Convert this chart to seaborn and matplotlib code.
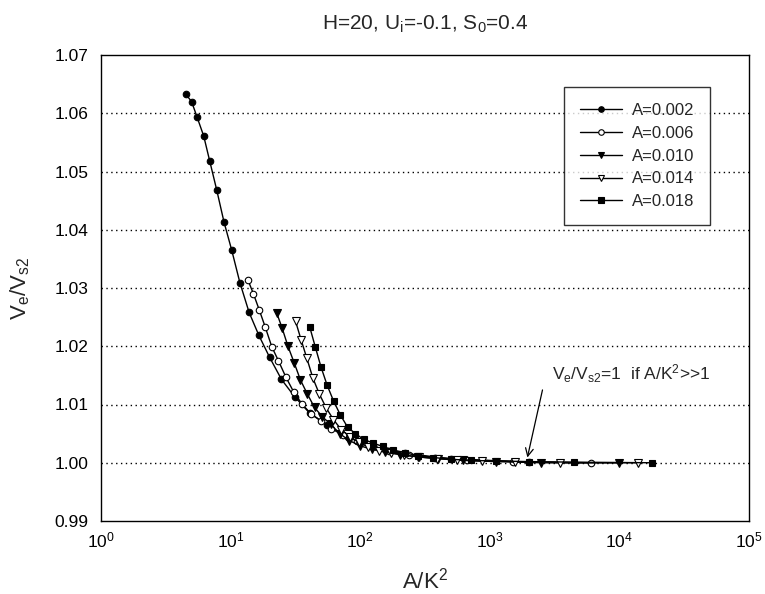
import matplotlib
matplotlib.use("Agg")
import matplotlib.pyplot as plt
import seaborn as sns
import pandas as pd
from matplotlib.ticker import FixedLocator, FormatStrFormatter, LogFormatterMathtext, NullLocator

# ---------------- data ----------------
series_labels = ["A=0.002", "A=0.006", "A=0.010", "A=0.014", "A=0.018"]

x_a002 = [4.5, 5.0, 5.5, 6.2, 6.9, 7.8, 8.9, 10.2, 11.8, 13.9, 16.5, 20.0, 24.7, 31.3, 40.8,
          55.6, 80, 125, 222, 500, 2000]
y_a002 = [1.0633, 1.0620, 1.0594, 1.0561, 1.0518, 1.0469, 1.0413, 1.0365, 1.0309, 1.0258,
          1.0219, 1.0181, 1.0143, 1.0113, 1.0085, 1.0065, 1.0044, 1.0028, 1.0016, 1.0007, 1.0001]

x_a006 = [13.6, 15.0, 16.6, 18.5, 20.8, 23.4, 26.7, 30.6, 35.5, 41.7, 49.6, 60, 74, 94, 122,
          167, 240, 375, 667, 1500, 6000]
y_a006 = [1.0314, 1.0290, 1.0263, 1.0233, 1.0199, 1.0175, 1.0147, 1.0122, 1.0101, 1.0084,
          1.0072, 1.0058, 1.0048, 1.0038, 1.0029, 1.0021, 1.0014, 1.0009, 1.0005, 1.0002, 1.0000]

x_a010 = [22.7, 25.0, 27.7, 30.9, 34.6, 39.1, 44.4, 51.0, 59.2, 69.4, 82.6, 100, 123, 156, 204,
          278, 400, 625, 1111, 2500, 10000]
y_a010 = [1.0257, 1.0231, 1.0200, 1.0172, 1.0142, 1.0118, 1.0095, 1.0079, 1.0066, 1.0050,
          1.0038, 1.0029, 1.0023, 1.0018, 1.0014, 1.0010, 1.0007, 1.0004, 1.0002, 1.0000, 1.0000]

x_a014 = [31.7, 35.0, 38.8, 43.2, 48.4, 54.7, 62.2, 71.4, 82.8, 97.2, 115.7, 140, 173, 219, 286,
          389, 560, 875, 1556, 3500, 14000]
y_a014 = [1.0243, 1.0211, 1.0179, 1.0145, 1.0118, 1.0094, 1.0074, 1.0057, 1.0045, 1.0035,
          1.0027, 1.0021, 1.0017, 1.0013, 1.0010, 1.0007, 1.0005, 1.0003, 1.0002, 1.0000, 1.0000]

x_a018 = [40.8, 45.0, 49.9, 55.6, 62.3, 70.3, 80.0, 91.8, 106.5, 125, 148.8, 180, 222, 281, 367,
          500, 720, 1125, 2000, 4500, 18000]
y_a018 = [1.0233, 1.0199, 1.0164, 1.0133, 1.0106, 1.0082, 1.0061, 1.0050, 1.0040, 1.0034,
          1.0028, 1.0022, 1.0017, 1.0012, 1.0009, 1.0006, 1.0004, 1.0003, 1.0002, 1.0001, 1.0000]

y_ticks = [0.99, 1.00, 1.01, 1.02, 1.03, 1.04, 1.05, 1.06, 1.07]
x_ticks = [1, 10, 100, 1000, 10000, 100000]

title_text = r"H=20, U$_\mathregular{i}$=-0.1, S$_\mathregular{0}$=0.4"
xlabel_text = r"A/K$^\mathregular{2}$"
ylabel_text = r"V$_\mathregular{e}$/V$_\mathregular{s2}$"
note_text = r"V$_\mathregular{e}$/V$_\mathregular{s2}$=1  if A/K$^\mathregular{2}$>>1"

# ---------------- style ----------------
sns.set_style("white")
plt.rcParams["font.family"] = ["Liberation Sans", "DejaVu Sans"]
plt.rcParams["mathtext.fontset"] = "custom"
plt.rcParams["mathtext.rm"] = "Liberation Sans"
plt.rcParams["mathtext.it"] = "Liberation Sans:italic"
plt.rcParams["mathtext.bf"] = "Liberation Sans:bold"

frames = []
for lab, xs, ys in zip(series_labels,
                       [x_a002, x_a006, x_a010, x_a014, x_a018],
                       [y_a002, y_a006, y_a010, y_a014, y_a018]):
    frames.append(pd.DataFrame({"x": xs, "y": ys, "series": lab}))
df = pd.concat(frames, ignore_index=True)

marker_styles = {
    "A=0.002": dict(marker="o", markerfacecolor="black"),
    "A=0.006": dict(marker="o", markerfacecolor="white"),
    "A=0.010": dict(marker="v", markerfacecolor="black"),
    "A=0.014": dict(marker="v", markerfacecolor="white"),
    "A=0.018": dict(marker="s", markerfacecolor="black"),
}
marker_sizes = {"o": 4.7, "v": 5.3, "s": 4.4}

fig = plt.figure(figsize=(7.65, 5.94), dpi=100)
# axes: left 101px, right 749px, top 55px, bottom 521px
ax = fig.add_axes([101 / 765, 1 - 521 / 594, 648 / 765, 466 / 594])
ax.set_xscale("log")

for lab in series_labels:
    sub = df[df["series"] == lab]
    st = marker_styles[lab]
    sns.lineplot(data=sub, x="x", y="y", ax=ax, color="black", linewidth=1.0,
                 marker=st["marker"], markerfacecolor=st["markerfacecolor"],
                 markeredgecolor="black", markeredgewidth=0.8,
                 markersize=marker_sizes[st["marker"]], label=lab, estimator=None)

ax.set_xlim(1, 1e5)
ax.set_ylim(0.99, 1.07)
ax.xaxis.set_major_locator(FixedLocator(x_ticks))
ax.xaxis.set_major_formatter(LogFormatterMathtext())
ax.xaxis.set_minor_locator(NullLocator())
ax.yaxis.set_major_locator(FixedLocator(y_ticks))
ax.yaxis.set_major_formatter(FormatStrFormatter("%.2f"))
ax.tick_params(axis="x", direction="in", length=6, width=1, labelsize=12.5, pad=7, colors="black")
ax.tick_params(axis="y", length=0, labelsize=12.5, pad=9, colors="black")

for yv in y_ticks[1:-1]:
    ax.axhline(yv, color="black", linewidth=1.0, linestyle=(0, (1, 2.5)), zorder=0)

for sp in ax.spines.values():
    sp.set_visible(True)
    sp.set_color("black")
    sp.set_linewidth(1.0)

ax.set_xlabel(xlabel_text, fontsize=16, labelpad=12)
ax.set_ylabel(ylabel_text, fontsize=16, labelpad=16)
ax.set_title(title_text, fontsize=15, pad=18)

leg = ax.legend(loc="upper left", bbox_to_anchor=((564 - 101) / 648, (521 - 87) / 466),
                fontsize=12, frameon=True, fancybox=False, edgecolor="black",
                handlelength=2.5, labelspacing=0.47, borderpad=0.95, handletextpad=0.6,
                borderaxespad=0, markerscale=0.85)
leg.get_frame().set_linewidth(1.0)

ax.text(3000, 1.0133, note_text, fontsize=12.5, ha="left", va="bottom")
ax.annotate("", xy=(1950, 1.0009), xytext=(2550, 1.0125),
            arrowprops=dict(arrowstyle="->", color="black", linewidth=0.9,
                            mutation_scale=14, shrinkA=0, shrinkB=0))

fig.savefig("out.png", dpi=100)
